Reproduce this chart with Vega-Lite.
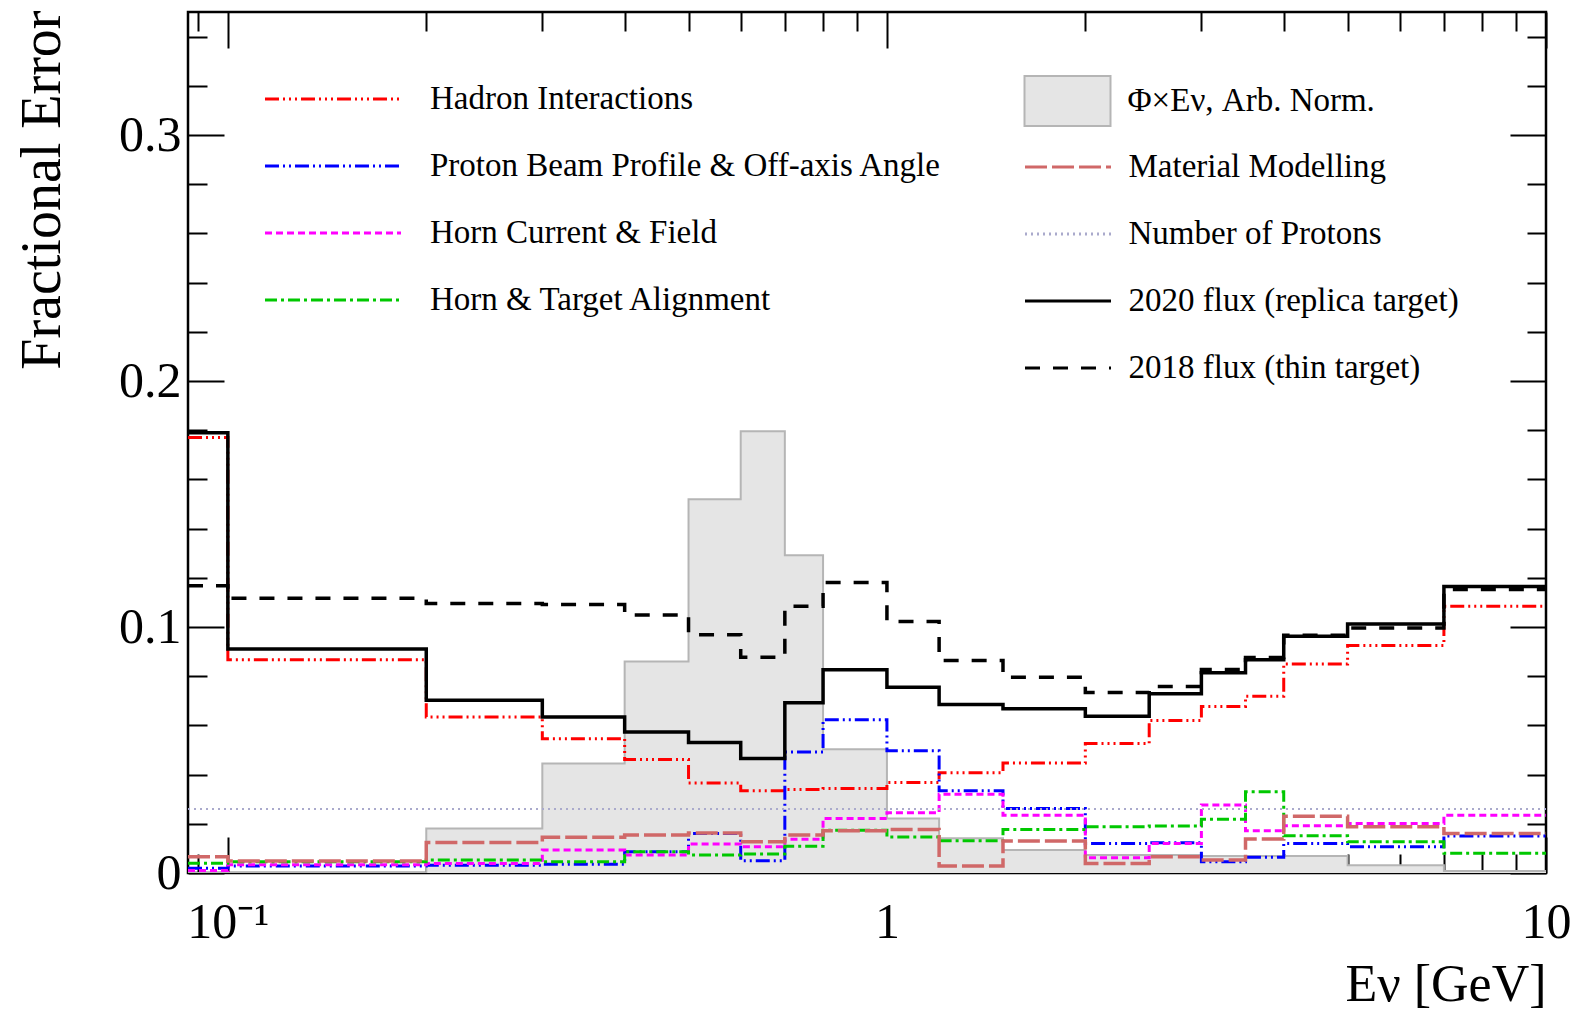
{
  "$schema": "https://vega.github.io/schema/vega-lite/v6.json",
  "width": 1358,
  "height": 861,
  "autosize": {"type": "none"},
  "padding": {"left": 188, "top": 12, "right": 40, "bottom": 140},
  "background": "white",
  "config": {
    "font": "Liberation Serif",
    "view": {"stroke": "black", "strokeWidth": 2.5},
    "axis": {"domain": false, "grid": false, "tickColor": "black", "tickWidth": 2, "labelColor": "black", "titleColor": "black", "labelFont": "Liberation Serif", "titleFont": "Liberation Serif", "labelFontSize": 50, "titleFontSize": 54, "titleFontWeight": "normal", "labelOverlap": false, "labelFlush": false, "labelBound": false},
    "legend": {"labelFont": "Liberation Serif", "labelFontSize": 33, "labelColor": "black", "labelLimit": 0, "padding": 0}
  },
  "data": {"values": [
    {"s":"Φ×Eν, Arb. Norm.","e":0.087,"v":0},{"s":"Φ×Eν, Arb. Norm.","e":0.1,"v":0},{"s":"Φ×Eν, Arb. Norm.","e":0.2,"v":0.0181},{"s":"Φ×Eν, Arb. Norm.","e":0.3,"v":0.0445},{"s":"Φ×Eν, Arb. Norm.","e":0.4,"v":0.086},{"s":"Φ×Eν, Arb. Norm.","e":0.5,"v":0.1519},{"s":"Φ×Eν, Arb. Norm.","e":0.6,"v":0.1796},{"s":"Φ×Eν, Arb. Norm.","e":0.7,"v":0.1292},{"s":"Φ×Eν, Arb. Norm.","e":0.8,"v":0.0503},{"s":"Φ×Eν, Arb. Norm.","e":1,"v":0.0222},{"s":"Φ×Eν, Arb. Norm.","e":1.2,"v":0.0141},{"s":"Φ×Eν, Arb. Norm.","e":1.5,"v":0.0093},{"s":"Φ×Eν, Arb. Norm.","e":2,"v":0.0073},{"s":"Φ×Eν, Arb. Norm.","e":2.5,"v":0.0073},{"s":"Φ×Eν, Arb. Norm.","e":3,"v":0.0069},{"s":"Φ×Eν, Arb. Norm.","e":3.5,"v":0.0069},{"s":"Φ×Eν, Arb. Norm.","e":4,"v":0.0069},{"s":"Φ×Eν, Arb. Norm.","e":5,"v":0.0032},{"s":"Φ×Eν, Arb. Norm.","e":7,"v":0.0008},{"s":"Φ×Eν, Arb. Norm.","e":10,"v":0.0008},
    {"s":"Hadron Interactions","e":0.087,"v":0.177},{"s":"Hadron Interactions","e":0.1,"v":0.0867},{"s":"Hadron Interactions","e":0.2,"v":0.0634},{"s":"Hadron Interactions","e":0.3,"v":0.0546},{"s":"Hadron Interactions","e":0.4,"v":0.0461},{"s":"Hadron Interactions","e":0.5,"v":0.0366},{"s":"Hadron Interactions","e":0.6,"v":0.0334},{"s":"Hadron Interactions","e":0.7,"v":0.0339},{"s":"Hadron Interactions","e":0.8,"v":0.0343},{"s":"Hadron Interactions","e":1,"v":0.0368},{"s":"Hadron Interactions","e":1.2,"v":0.0408},{"s":"Hadron Interactions","e":1.5,"v":0.0447},{"s":"Hadron Interactions","e":2,"v":0.0526},{"s":"Hadron Interactions","e":2.5,"v":0.062},{"s":"Hadron Interactions","e":3,"v":0.0677},{"s":"Hadron Interactions","e":3.5,"v":0.0718},{"s":"Hadron Interactions","e":4,"v":0.085},{"s":"Hadron Interactions","e":5,"v":0.0925},{"s":"Hadron Interactions","e":7,"v":0.1084},{"s":"Hadron Interactions","e":10,"v":0.1084},
    {"s":"Proton Beam Profile & Off-axis Angle","e":0.087,"v":0.0019},{"s":"Proton Beam Profile & Off-axis Angle","e":0.1,"v":0.0028},{"s":"Proton Beam Profile & Off-axis Angle","e":0.2,"v":0.0032},{"s":"Proton Beam Profile & Off-axis Angle","e":0.3,"v":0.0036},{"s":"Proton Beam Profile & Off-axis Angle","e":0.4,"v":0.0086},{"s":"Proton Beam Profile & Off-axis Angle","e":0.5,"v":0.0161},{"s":"Proton Beam Profile & Off-axis Angle","e":0.6,"v":0.005},{"s":"Proton Beam Profile & Off-axis Angle","e":0.7,"v":0.0492},{"s":"Proton Beam Profile & Off-axis Angle","e":0.8,"v":0.0623},{"s":"Proton Beam Profile & Off-axis Angle","e":1,"v":0.0497},{"s":"Proton Beam Profile & Off-axis Angle","e":1.2,"v":0.0334},{"s":"Proton Beam Profile & Off-axis Angle","e":1.5,"v":0.0262},{"s":"Proton Beam Profile & Off-axis Angle","e":2,"v":0.012},{"s":"Proton Beam Profile & Off-axis Angle","e":2.5,"v":0.0123},{"s":"Proton Beam Profile & Off-axis Angle","e":3,"v":0.0046},{"s":"Proton Beam Profile & Off-axis Angle","e":3.5,"v":0.0064},{"s":"Proton Beam Profile & Off-axis Angle","e":4,"v":0.012},{"s":"Proton Beam Profile & Off-axis Angle","e":5,"v":0.0107},{"s":"Proton Beam Profile & Off-axis Angle","e":7,"v":0.015},{"s":"Proton Beam Profile & Off-axis Angle","e":10,"v":0.015},
    {"s":"Horn Current & Field","e":0.087,"v":0.001},{"s":"Horn Current & Field","e":0.1,"v":0.0034},{"s":"Horn Current & Field","e":0.2,"v":0.0039},{"s":"Horn Current & Field","e":0.3,"v":0.0093},{"s":"Horn Current & Field","e":0.4,"v":0.0073},{"s":"Horn Current & Field","e":0.5,"v":0.0118},{"s":"Horn Current & Field","e":0.6,"v":0.0107},{"s":"Horn Current & Field","e":0.7,"v":0.0137},{"s":"Horn Current & Field","e":0.8,"v":0.0222},{"s":"Horn Current & Field","e":1,"v":0.0245},{"s":"Horn Current & Field","e":1.2,"v":0.032},{"s":"Horn Current & Field","e":1.5,"v":0.0235},{"s":"Horn Current & Field","e":2,"v":0.0062},{"s":"Horn Current & Field","e":2.5,"v":0.012},{"s":"Horn Current & Field","e":3,"v":0.0276},{"s":"Horn Current & Field","e":3.5,"v":0.0172},{"s":"Horn Current & Field","e":4,"v":0.0192},{"s":"Horn Current & Field","e":5,"v":0.0201},{"s":"Horn Current & Field","e":7,"v":0.0235},{"s":"Horn Current & Field","e":10,"v":0.0235},
    {"s":"Horn & Target Alignment","e":0.087,"v":0.004},{"s":"Horn & Target Alignment","e":0.1,"v":0.0046},{"s":"Horn & Target Alignment","e":0.2,"v":0.0053},{"s":"Horn & Target Alignment","e":0.3,"v":0.0046},{"s":"Horn & Target Alignment","e":0.4,"v":0.0086},{"s":"Horn & Target Alignment","e":0.5,"v":0.0073},{"s":"Horn & Target Alignment","e":0.6,"v":0.0077},{"s":"Horn & Target Alignment","e":0.7,"v":0.0109},{"s":"Horn & Target Alignment","e":0.8,"v":0.0174},{"s":"Horn & Target Alignment","e":1,"v":0.0146},{"s":"Horn & Target Alignment","e":1.2,"v":0.0131},{"s":"Horn & Target Alignment","e":1.5,"v":0.0177},{"s":"Horn & Target Alignment","e":2,"v":0.0188},{"s":"Horn & Target Alignment","e":2.5,"v":0.0191},{"s":"Horn & Target Alignment","e":3,"v":0.0219},{"s":"Horn & Target Alignment","e":3.5,"v":0.033},{"s":"Horn & Target Alignment","e":4,"v":0.0151},{"s":"Horn & Target Alignment","e":5,"v":0.0127},{"s":"Horn & Target Alignment","e":7,"v":0.008},{"s":"Horn & Target Alignment","e":10,"v":0.008},
    {"s":"Material Modelling","e":0.087,"v":0.0066},{"s":"Material Modelling","e":0.1,"v":0.0049},{"s":"Material Modelling","e":0.2,"v":0.0124},{"s":"Material Modelling","e":0.3,"v":0.0145},{"s":"Material Modelling","e":0.4,"v":0.0154},{"s":"Material Modelling","e":0.5,"v":0.0163},{"s":"Material Modelling","e":0.6,"v":0.0127},{"s":"Material Modelling","e":0.7,"v":0.0154},{"s":"Material Modelling","e":0.8,"v":0.0172},{"s":"Material Modelling","e":1,"v":0.0177},{"s":"Material Modelling","e":1.2,"v":0.0028},{"s":"Material Modelling","e":1.5,"v":0.013},{"s":"Material Modelling","e":2,"v":0.0039},{"s":"Material Modelling","e":2.5,"v":0.0066},{"s":"Material Modelling","e":3,"v":0.0053},{"s":"Material Modelling","e":3.5,"v":0.0138},{"s":"Material Modelling","e":4,"v":0.0231},{"s":"Material Modelling","e":5,"v":0.0188},{"s":"Material Modelling","e":7,"v":0.0161},{"s":"Material Modelling","e":10,"v":0.0161},
    {"s":"Number of Protons","e":0.087,"v":0.026},{"s":"Number of Protons","e":0.1,"v":0.026},{"s":"Number of Protons","e":0.2,"v":0.026},{"s":"Number of Protons","e":0.3,"v":0.026},{"s":"Number of Protons","e":0.4,"v":0.026},{"s":"Number of Protons","e":0.5,"v":0.026},{"s":"Number of Protons","e":0.6,"v":0.026},{"s":"Number of Protons","e":0.7,"v":0.026},{"s":"Number of Protons","e":0.8,"v":0.026},{"s":"Number of Protons","e":1,"v":0.026},{"s":"Number of Protons","e":1.2,"v":0.026},{"s":"Number of Protons","e":1.5,"v":0.026},{"s":"Number of Protons","e":2,"v":0.026},{"s":"Number of Protons","e":2.5,"v":0.026},{"s":"Number of Protons","e":3,"v":0.026},{"s":"Number of Protons","e":3.5,"v":0.026},{"s":"Number of Protons","e":4,"v":0.026},{"s":"Number of Protons","e":5,"v":0.026},{"s":"Number of Protons","e":7,"v":0.026},{"s":"Number of Protons","e":10,"v":0.026},
    {"s":"2020 flux (replica target)","e":0.087,"v":0.179},{"s":"2020 flux (replica target)","e":0.1,"v":0.0911},{"s":"2020 flux (replica target)","e":0.2,"v":0.0702},{"s":"2020 flux (replica target)","e":0.3,"v":0.0634},{"s":"2020 flux (replica target)","e":0.4,"v":0.0573},{"s":"2020 flux (replica target)","e":0.5,"v":0.053},{"s":"2020 flux (replica target)","e":0.6,"v":0.0465},{"s":"2020 flux (replica target)","e":0.7,"v":0.0692},{"s":"2020 flux (replica target)","e":0.8,"v":0.0826},{"s":"2020 flux (replica target)","e":1,"v":0.0755},{"s":"2020 flux (replica target)","e":1.2,"v":0.0685},{"s":"2020 flux (replica target)","e":1.5,"v":0.0668},{"s":"2020 flux (replica target)","e":2,"v":0.0637},{"s":"2020 flux (replica target)","e":2.5,"v":0.0729},{"s":"2020 flux (replica target)","e":3,"v":0.0814},{"s":"2020 flux (replica target)","e":3.5,"v":0.0867},{"s":"2020 flux (replica target)","e":4,"v":0.0962},{"s":"2020 flux (replica target)","e":5,"v":0.1012},{"s":"2020 flux (replica target)","e":7,"v":0.1165},{"s":"2020 flux (replica target)","e":10,"v":0.1165},
    {"s":"2018 flux (thin target)","e":0.087,"v":0.1168},{"s":"2018 flux (thin target)","e":0.1,"v":0.1117},{"s":"2018 flux (thin target)","e":0.2,"v":0.1096},{"s":"2018 flux (thin target)","e":0.3,"v":0.1091},{"s":"2018 flux (thin target)","e":0.4,"v":0.1049},{"s":"2018 flux (thin target)","e":0.5,"v":0.0969},{"s":"2018 flux (thin target)","e":0.6,"v":0.0877},{"s":"2018 flux (thin target)","e":0.7,"v":0.1084},{"s":"2018 flux (thin target)","e":0.8,"v":0.1181},{"s":"2018 flux (thin target)","e":1,"v":0.1022},{"s":"2018 flux (thin target)","e":1.2,"v":0.0864},{"s":"2018 flux (thin target)","e":1.5,"v":0.0796},{"s":"2018 flux (thin target)","e":2,"v":0.0734},{"s":"2018 flux (thin target)","e":2.5,"v":0.0758},{"s":"2018 flux (thin target)","e":3,"v":0.0827},{"s":"2018 flux (thin target)","e":3.5,"v":0.0876},{"s":"2018 flux (thin target)","e":4,"v":0.0966},{"s":"2018 flux (thin target)","e":5,"v":0.0996},{"s":"2018 flux (thin target)","e":7,"v":0.1152},{"s":"2018 flux (thin target)","e":10,"v":0.1152}
  ]},
  "layer": [
    {
      "transform": [{"filter": {"field": "s", "equal": "Φ×Eν, Arb. Norm."}}],
      "mark": {"type": "area", "interpolate": "step-after", "clip": true},
      "encoding": {
        "x": {"field": "e", "type": "quantitative", "scale": {"type": "log", "domain": [0.087, 10], "nice": false},
              "axis": {"orient": "bottom", "values": [0.1, 1, 10], "tickSize": -36, "labelPadding": 60, "labelExpr": "datum.value < 0.5 ? '10⁻¹' : (datum.value < 5 ? '1' : '10')", "title": "Eν [GeV]", "titleFontSize": 52, "titleX": 1358, "titleY": 127, "titleAlign": "right", "titleBaseline": "alphabetic", "titleAnchor": "end"}},
        "y": {"field": "v", "type": "quantitative", "scale": {"domain": [0, 0.35], "nice": false},
              "axis": {"orient": "left", "values": [0, 0.1, 0.2, 0.3], "tickSize": -36, "labelPadding": 43, "format": ".1~f", "title": "Fractional Error", "titleFontSize": 56, "titleAngle": 270, "titleX": -129, "titleY": -2, "titleAlign": "right", "titleBaseline": "alphabetic", "titleAnchor": "end"}},
        "fill": {"field": "s", "type": "nominal", "scale": {"domain": ["Φ×Eν, Arb. Norm."], "range": ["#e5e5e5"]},
                 "legend": {"orient": "none", "legendX": 835.5, "legendY": 45, "title": null, "symbolType": "M-1,-0.58L1,-0.58L1,0.58L-1,0.58Z", "symbolSize": 7396, "symbolStrokeColor": "#b5b5b5", "symbolStrokeWidth": 2, "labelOffset": 16, "padding": 0}}
      }
    },
    {
      "transform": [{"filter": {"field": "s", "equal": "Φ×Eν, Arb. Norm."}}],
      "mark": {"type": "line", "interpolate": "step-after", "strokeWidth": 2, "color": "#b5b5b5", "clip": true},
      "encoding": {
        "x": {"field": "e", "type": "quantitative", "axis": null},
        "y": {"field": "v", "type": "quantitative", "axis": null}
      }
    },
    {
      "transform": [{"filter": {"field": "s", "oneOf": ["Hadron Interactions", "Proton Beam Profile & Off-axis Angle", "Horn Current & Field", "Horn & Target Alignment"]}}],
      "mark": {"type": "line", "interpolate": "step-after", "strokeWidth": 3, "clip": true},
      "encoding": {
        "x": {"field": "e", "type": "quantitative",
              "axis": {"orient": "bottom", "values": [0.09, 0.2, 0.3, 0.4, 0.5, 0.6, 0.7, 0.8, 0.9, 2, 3, 4, 5, 6, 7, 8, 9], "tickSize": -19, "labels": false, "title": null}},
        "y": {"field": "v", "type": "quantitative",
              "axis": {"orient": "left", "values": [0.02, 0.04, 0.06, 0.08, 0.12, 0.14, 0.16, 0.18, 0.22, 0.24, 0.26, 0.28, 0.32, 0.34], "tickSize": -19, "labels": false, "title": null}},
        "color": {"field": "s", "type": "nominal",
                  "scale": {"domain": ["Hadron Interactions", "Proton Beam Profile & Off-axis Angle", "Horn Current & Field", "Horn & Target Alignment"], "range": ["#ff0000", "#0000ff", "#ff00ff", "#00c800"]},
                  "legend": {"orient": "none", "legendX": 122, "legendY": 64, "title": null, "symbolType": "M-3.163,0L3.163,0", "symbolSize": 1849, "symbolStrokeWidth": 3, "labelOffset": 74, "rowPadding": 27, "padding": 0}},
        "strokeDash": {"field": "s", "type": "nominal",
                  "scale": {"domain": ["Hadron Interactions", "Proton Beam Profile & Off-axis Angle", "Horn Current & Field", "Horn & Target Alignment"], "range": [[14, 4, 2, 4, 2, 4, 2, 4], [14, 4, 2, 4, 2, 4], [7, 4], [12, 4, 3, 4]]},
                  "legend": {"orient": "none", "legendX": 122, "legendY": 64, "title": null, "symbolType": "M-3.163,0L3.163,0", "symbolSize": 1849, "symbolStrokeWidth": 3, "labelOffset": 74, "rowPadding": 27, "padding": 0}}
      }
    },
    {
      "transform": [{"filter": {"field": "s", "equal": "Material Modelling"}}],
      "mark": {"type": "line", "interpolate": "step-after", "strokeWidth": 3.5, "clip": true},
      "encoding": {
        "x": {"field": "e", "type": "quantitative",
              "axis": {"orient": "top", "values": [0.1, 1, 10], "tickSize": -36, "labels": false, "title": null}},
        "y": {"field": "v", "type": "quantitative",
              "axis": {"orient": "right", "values": [0, 0.1, 0.2, 0.3], "tickSize": -36, "labels": false, "title": null}},
        "color": {"field": "s", "type": "nominal",
                  "scale": {"domain": ["Material Modelling", "Number of Protons", "2020 flux (replica target)", "2018 flux (thin target)"], "range": ["#d06868", "#aaaacc", "#000000", "#000000"]},
                  "legend": {"orient": "none", "legendX": 857, "legendY": 132, "title": null, "symbolType": "M-2,0L2,0", "symbolSize": 1849, "symbolStrokeWidth": 3, "labelOffset": 37.5, "rowPadding": 27, "padding": 0}},
        "strokeDash": {"field": "s", "type": "nominal",
                  "scale": {"domain": ["Material Modelling", "Number of Protons", "2020 flux (replica target)", "2018 flux (thin target)"], "range": [[22, 5], [2, 4], [1, 0], [15, 13]]},
                  "legend": {"orient": "none", "legendX": 857, "legendY": 132, "title": null, "symbolType": "M-2,0L2,0", "symbolSize": 1849, "symbolStrokeWidth": 3, "labelOffset": 37.5, "rowPadding": 27, "padding": 0}}
      }
    },
    {
      "transform": [{"filter": {"field": "s", "equal": "Number of Protons"}}],
      "mark": {"type": "line", "interpolate": "step-after", "strokeWidth": 2, "color": "#aaaacc", "strokeDash": [2, 4], "clip": true},
      "encoding": {
        "x": {"field": "e", "type": "quantitative",
              "axis": {"orient": "top", "values": [0.09, 0.2, 0.3, 0.4, 0.5, 0.6, 0.7, 0.8, 0.9, 2, 3, 4, 5, 6, 7, 8, 9], "tickSize": -19, "labels": false, "title": null}},
        "y": {"field": "v", "type": "quantitative",
              "axis": {"orient": "right", "values": [0.02, 0.04, 0.06, 0.08, 0.12, 0.14, 0.16, 0.18, 0.22, 0.24, 0.26, 0.28, 0.32, 0.34], "tickSize": -19, "labels": false, "title": null}}
      }
    },
    {
      "transform": [{"filter": {"field": "s", "equal": "2020 flux (replica target)"}}],
      "mark": {"type": "line", "interpolate": "step-after", "strokeWidth": 3.5, "color": "#000000", "clip": true},
      "encoding": {
        "x": {"field": "e", "type": "quantitative", "axis": null},
        "y": {"field": "v", "type": "quantitative", "axis": null}
      }
    },
    {
      "transform": [{"filter": {"field": "s", "equal": "2018 flux (thin target)"}}],
      "mark": {"type": "line", "interpolate": "step-after", "strokeWidth": 3.5, "color": "#000000", "strokeDash": [15, 13], "clip": true},
      "encoding": {
        "x": {"field": "e", "type": "quantitative", "axis": null},
        "y": {"field": "v", "type": "quantitative", "axis": null}
      }
    }
  ],
  "resolve": {"scale": {"color": "independent", "strokeDash": "independent"}, "axis": {"x": "independent", "y": "independent"}}
}
